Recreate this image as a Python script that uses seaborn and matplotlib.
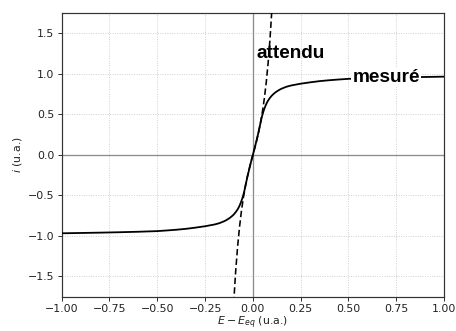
import matplotlib
matplotlib.use("Agg")
import matplotlib.pyplot as plt
import seaborn as sns

# courbe mesurée (limitée par le transport de matière)
E_mes = [-1.0, -0.9, -0.8, -0.7, -0.6, -0.5, -0.45, -0.4, -0.35, -0.3, -0.25, -0.2,
         -0.175, -0.15, -0.14, -0.13, -0.12, -0.11, -0.1, -0.09, -0.08, -0.075,
         -0.07, -0.065, -0.06, -0.055, -0.05, -0.045, -0.04, -0.035, -0.03, -0.02,
         -0.01, 0.0, 0.01, 0.02, 0.03, 0.035, 0.04, 0.045, 0.05, 0.055, 0.06,
         0.065, 0.07, 0.075, 0.08, 0.09, 0.1, 0.11, 0.12, 0.13, 0.14, 0.15,
         0.175, 0.2, 0.25, 0.3, 0.35, 0.4, 0.45, 0.5, 0.6, 0.7, 0.8, 0.9, 1.0]
i_mes = [-0.967, -0.963, -0.959, -0.954, -0.948, -0.94, -0.932, -0.923, -0.912, -0.897, -0.88, -0.858,
         -0.842, -0.818, -0.806, -0.792, -0.776, -0.757, -0.735, -0.707, -0.673, -0.652,
         -0.628, -0.6, -0.57, -0.535, -0.495, -0.45, -0.395, -0.34, -0.285, -0.185,
         -0.09, 0.0, 0.09, 0.185, 0.285, 0.34, 0.395, 0.45, 0.495, 0.535, 0.57,
         0.6, 0.628, 0.652, 0.673, 0.707, 0.735, 0.757, 0.776, 0.792, 0.806, 0.818,
         0.842, 0.858, 0.88, 0.897, 0.912, 0.923, 0.932, 0.94, 0.948, 0.954, 0.959, 0.963, 0.967]

# courbe attendue (Butler-Volmer sans limitation)
E_att = [-0.11, -0.1, -0.09, -0.08, -0.07, -0.06, -0.05, -0.04, -0.03, -0.02, -0.01,
         0.0, 0.01, 0.02, 0.03, 0.04, 0.05, 0.06, 0.07, 0.08, 0.09, 0.1, 0.11]
i_att = [-2.28, -1.815, -1.441, -1.139, -0.895, -0.696, -0.533, -0.397, -0.281, -0.18, -0.088,
         0.0, 0.088, 0.18, 0.281, 0.397, 0.533, 0.696, 0.895, 1.139, 1.441, 1.815, 2.28]

xticks = [-1.0, -0.75, -0.5, -0.25, 0.0, 0.25, 0.5, 0.75, 1.0]
yticks = [-1.5, -1.0, -0.5, 0.0, 0.5, 1.0, 1.5]

sns.set_style("ticks")
plt.rcParams.update({
    "font.family": ["DejaVu Sans"],
    "font.size": 11,
    "text.color": "black",
    "axes.edgecolor": "#333333",
    "axes.linewidth": 1.2,
})

fig = plt.figure(figsize=(456 / 72, 331 / 72), dpi=72)
ax = fig.add_axes([0.1353, 0.1036, 0.8384, 0.8564])

ax.grid(True, linestyle=":", color="#c8c8c8", linewidth=0.9)
ax.axhline(0, color="#8c8c8c", lw=1.3, zorder=1)
ax.axvline(0, color="#8c8c8c", lw=1.3, zorder=1)

sns.lineplot(x=E_mes, y=i_mes, color="black", lw=1.8, ax=ax, sort=False, zorder=3)
sns.lineplot(x=E_att, y=i_att, color="black", lw=1.6, ax=ax, sort=False,
             zorder=3).lines[-1].set_dashes((4, 2))

ax.set_xlim(-1.0, 1.0)
ax.set_ylim(-1.75, 1.75)
ax.set_xticks(xticks)
ax.set_yticks(yticks)
ax.set_xticklabels([f"{v:.2f}".replace("-", "\u2212") for v in xticks])
ax.set_yticklabels([f"{v:.1f}".replace("-", "\u2212") for v in yticks])
ax.tick_params(colors="#333333", labelcolor="#222222", labelsize=11, length=4, width=1)

ax.set_xlabel(r"$E - E_{eq}$ (u.a.)", color="#222222", fontsize=11, labelpad=0)
ax.set_ylabel(r"$i$ (u.a.)", color="#222222", fontsize=11, labelpad=4)

ax.text(0.02, 1.2, "attendu", family="Liberation Sans", weight="bold",
        fontsize=19, ha="left", va="baseline", color="black", zorder=5)
ax.text(0.52, 0.906, "mesuré", family="Liberation Sans", weight="bold",
        fontsize=19, ha="left", va="baseline", color="black", zorder=5,
        bbox=dict(facecolor="white", edgecolor="none", pad=1))

fig.savefig("out.png", dpi=72)
